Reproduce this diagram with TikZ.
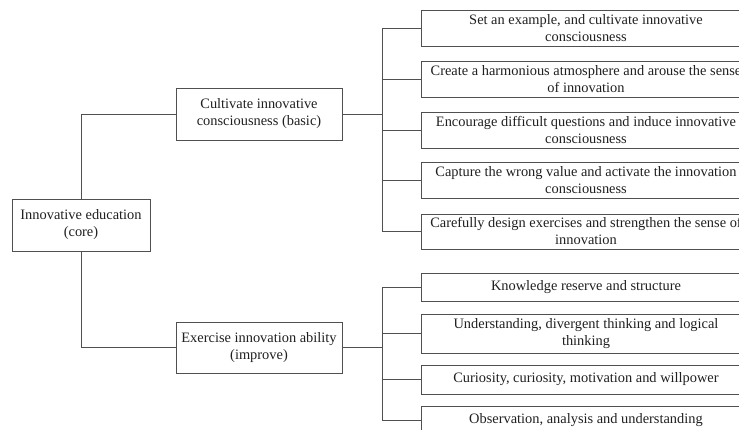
\documentclass[tikz,border=0pt]{standalone}
\usepackage{fontspec}
\setmainfont{Liberation Serif}
\definecolor{linec}{HTML}{505050}
\definecolor{textc}{HTML}{202020}
\begin{document}
\begin{tikzpicture}[x=1pt,y=-1pt,
  box/.style={draw=linec, line width=0.9pt, align=center, inner sep=0pt, text=textc,
    font=\fontsize{14.4}{17}\selectfont},
  leaf/.style={box, minimum width=330pt, anchor=center},
  conn/.style={draw=linec, line width=0.9pt}]
\useasboundingbox (0,0) rectangle (739,430);
\clip (0,0) rectangle (739,430);
\fill[white] (0,0) rectangle (739,430);

\node[box, minimum width=138pt, minimum height=52pt] (root) at (81,225) {Innovative education\\(core)};
\node[box, minimum width=166pt, minimum height=52pt] (c1) at (259,114) {Cultivate innovative\\consciousness (basic)};
\node[box, minimum width=166pt, minimum height=51pt] (c2) at (259,347.5) {Exercise innovation ability\\(improve)};

\node[leaf, minimum height=36pt] (r1) at (586,28) {Set an example, and cultivate innovative\\consciousness};
\node[leaf, minimum height=36pt] (r2) at (586,79) {Create a harmonious atmosphere and arouse the sense\\of innovation};
\node[leaf, minimum height=36pt] (r3) at (586,130) {Encourage difficult questions and induce innovative\\consciousness};
\node[leaf, minimum height=36pt] (r4) at (586,180) {Capture the wrong value and activate the innovation\\consciousness};
\node[leaf, minimum height=35pt] (r5) at (586,231.5) {Carefully design exercises and strengthen the sense of\\innovation};

\node[leaf, minimum height=28pt] (r6) at (586,287) {Knowledge reserve and structure};
\node[leaf, minimum height=39pt] (r7) at (586,333.5) {Understanding, divergent thinking and logical\\thinking};
\node[leaf, minimum height=29pt] (r8) at (586,379.5) {Curiosity, curiosity, motivation and willpower};
\node[leaf, minimum height=28pt] (r9) at (586,420) {Observation, analysis and understanding};

\coordinate (bx) at (382,0);

\draw[conn] (root.north) |- (c1.west);
\draw[conn] (root.south) |- (c2.west);

\draw[conn] (c1.east) -- (c1.east -| bx);
\draw[conn] (r1.west -| bx) -- (r5.west -| bx);
\foreach \n in {r1,r2,r3,r4,r5} \draw[conn] (\n.west -| bx) -- (\n.west);

\draw[conn] (c2.east) -- (c2.east -| bx);
\draw[conn] (r6.west -| bx) -- (r9.west -| bx);
\foreach \n in {r6,r7,r8,r9} \draw[conn] (\n.west -| bx) -- (\n.west);
\end{tikzpicture}
\end{document}
